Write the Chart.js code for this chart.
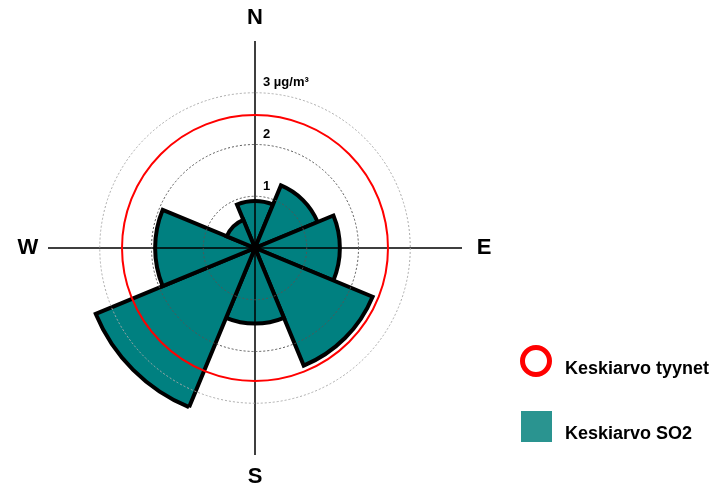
<!DOCTYPE html>
<html>
<head>
<meta charset="utf-8">
<script src="https://cdn.jsdelivr.net/npm/chart.js@4/dist/chart.umd.min.js"></script>
<style>
  html, body { margin: 0; padding: 0; background: #fff; }
  #wrap { width: 720px; height: 486px; position: relative; }
</style>
</head>
<body>
<div id="wrap"><canvas id="c"></canvas></div>
<script>
// ---- data ----
const directions = ['N', 'NE', 'E', 'SE', 'S', 'SW', 'W', 'NW'];
const so2Values = [0.91, 1.31, 1.64, 2.46, 1.46, 3.33, 1.93, 0.59];
const calmAverage = 2.57;
const tickValues = [1, 2, 3];
const tickLabels = ['1', '2', '3 µg/m³'];
const compassLabels = ['N', 'E', 'S', 'W'];
const legendLabels = ['Keskiarvo tyynet', 'Keskiarvo SO2'];

const FONT = '"Liberation Sans", Arial, Helvetica, sans-serif';

const overlayPlugin = {
  id: 'overlay',
  afterDatasetsDraw(chart) {
    const s = chart.scales.r;
    const ctx = chart.ctx;
    const cx = s.xCenter, cy = s.yCenter, R = s.drawingArea;
    ctx.save();
    // compass axis lines
    ctx.strokeStyle = '#000';
    ctx.lineWidth = 1.5;
    ctx.beginPath();
    ctx.moveTo(cx, cy - R); ctx.lineTo(cx, cy + R);
    ctx.moveTo(cx - R, cy); ctx.lineTo(cx + R, cy);
    ctx.stroke();
    // calm average circle
    ctx.strokeStyle = '#ff0000';
    ctx.lineWidth = 2;
    ctx.beginPath();
    ctx.arc(cx, cy, s.getDistanceFromCenterForValue(calmAverage), 0, Math.PI * 2);
    ctx.stroke();
    // tick labels
    ctx.fillStyle = '#000';
    ctx.font = 'bold 13px ' + FONT;
    ctx.textAlign = 'left';
    ctx.textBaseline = 'middle';
    tickValues.forEach((v, i) => {
      const d = s.getDistanceFromCenterForValue(v);
      ctx.fillText(tickLabels[i], cx + 8, cy - d - 10);
    });
    // compass labels
    ctx.font = 'bold 22px ' + FONT;
    ctx.textAlign = 'center';
    const pos = [[0, -R - 23], [R + 22, 0], [0, R + 22], [-R - 20, 0]];
    compassLabels.forEach((t, i) => {
      ctx.fillText(t, cx + pos[i][0], cy + pos[i][1]);
    });
    // legend
    ctx.strokeStyle = '#ff0000';
    ctx.lineWidth = 5;
    ctx.beginPath();
    ctx.arc(536, 361, 13.5, 0, Math.PI * 2);
    ctx.stroke();
    ctx.fillStyle = '#2a9490';
    ctx.fillRect(521, 411, 31, 31);
    ctx.fillStyle = '#000';
    ctx.font = 'bold 18px ' + FONT;
    ctx.textAlign = 'left';
    ctx.fillText(legendLabels[0], 565, 369);
    ctx.fillText(legendLabels[1], 565, 434);
    ctx.restore();
  }
};

new Chart(document.getElementById('c'), {
  type: 'polarArea',
  data: {
    labels: directions,
    datasets: [{
      label: legendLabels[1],
      data: so2Values,
      backgroundColor: '#008080',
      borderColor: '#000000',
      borderWidth: 4,
      borderJoinStyle: 'miter'
    }]
  },
  options: {
    responsive: true,
    maintainAspectRatio: false,
    animation: false,
    layout: { padding: { left: 48, right: 258, top: 41, bottom: 31 } },
    plugins: { legend: { display: false }, tooltip: { enabled: false } },
    scales: {
      r: {
        min: 0,
        max: 4,
        startAngle: -22.5,
        ticks: { display: false, stepSize: 1 },
        grid: {
          circular: true,
          z: 1,
          lineWidth: 1,
          color: (c) => {
            const v = c.tick ? c.tick.value : 0;
            if (v === 1 || v === 2) return '#555555';
            if (v === 3) return '#aaaaaa';
            return 'rgba(0,0,0,0)';
          }
        },
        border: { dash: [2, 2] },
        angleLines: { display: false },
        pointLabels: { display: false }
      }
    }
  },
  plugins: [overlayPlugin]
});
</script>
</body>
</html>
